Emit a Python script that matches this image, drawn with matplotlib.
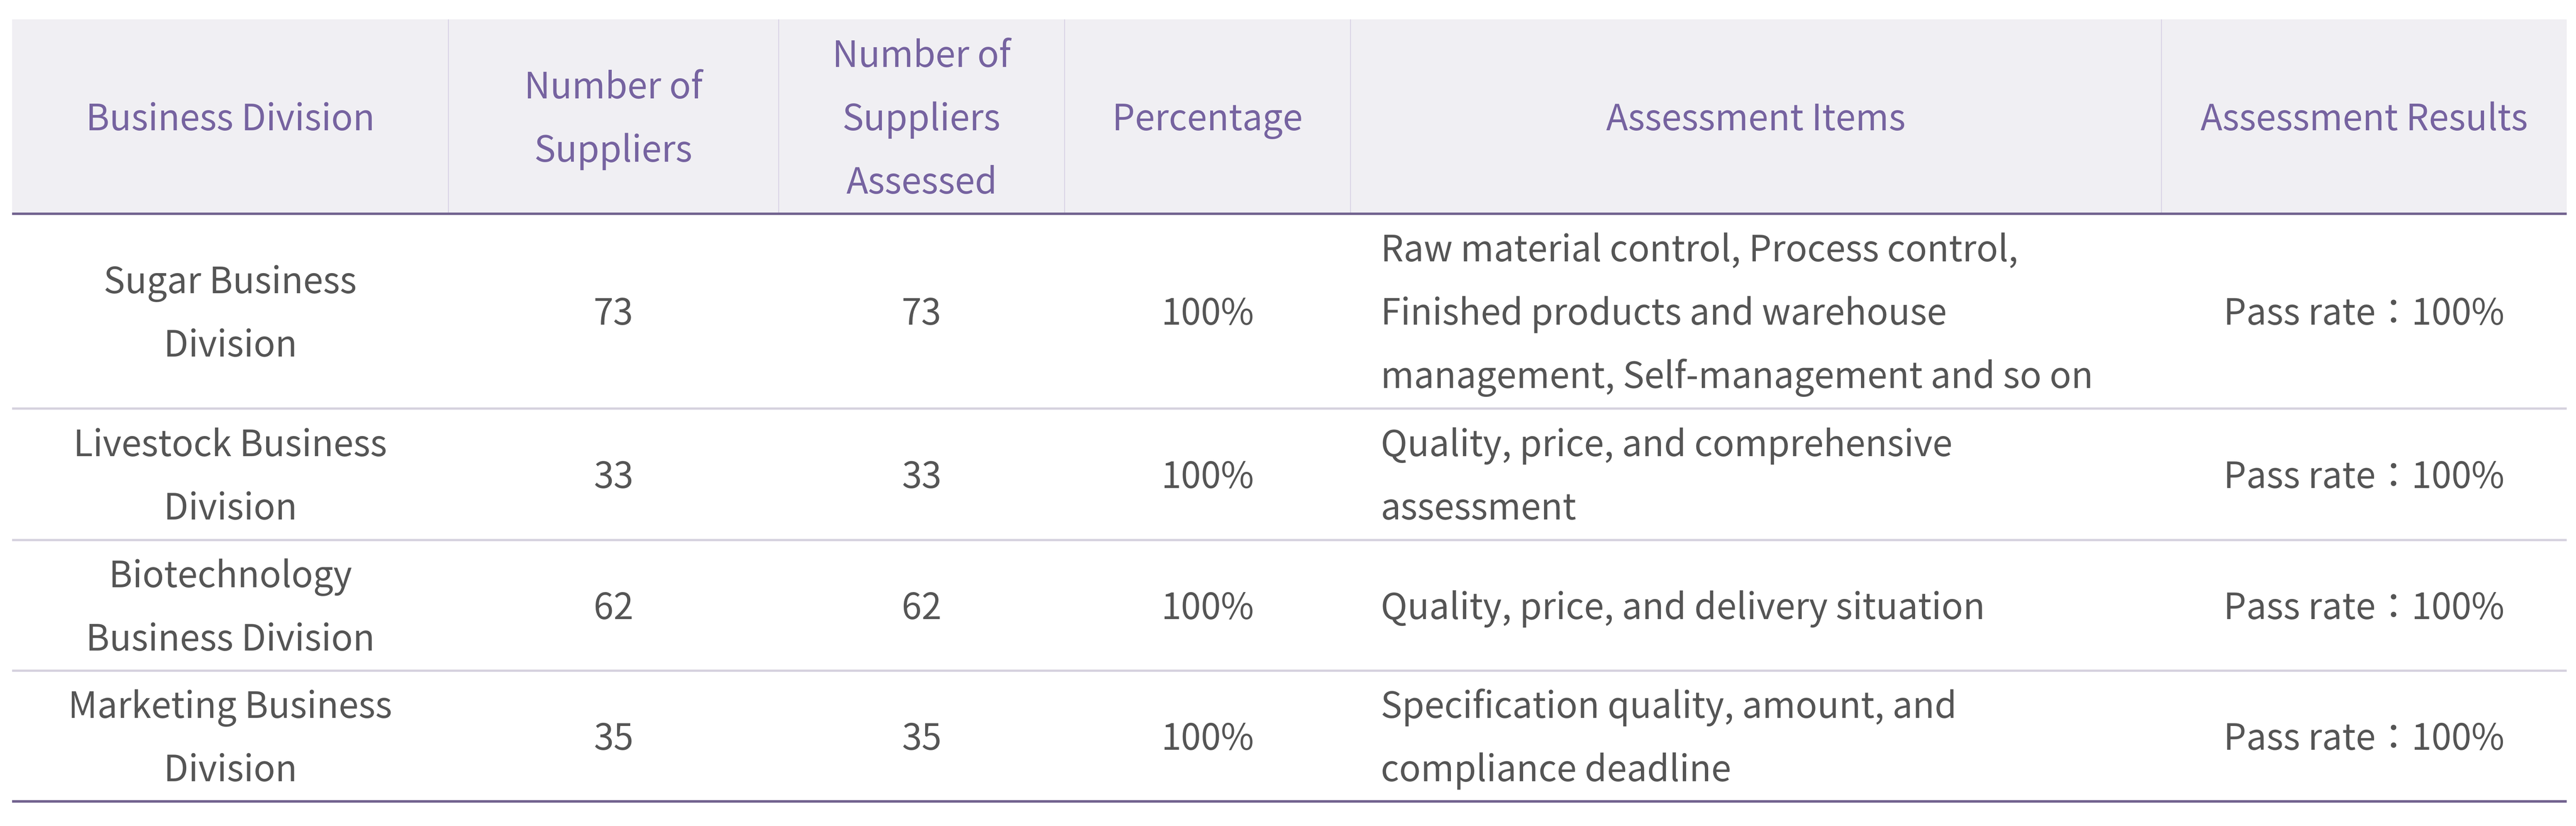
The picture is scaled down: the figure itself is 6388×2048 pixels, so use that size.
import matplotlib
matplotlib.use("Agg")
import matplotlib.pyplot as plt
from matplotlib.patches import Rectangle

plt.rcParams['font.family'] = ['Noto Sans CJK TC', 'DejaVu Sans']

# ---------------- data ----------------
headers = ["Business Division", "Number of\nSuppliers", "Number of\nSuppliers\nAssessed",
           "Percentage", "Assessment Items", "Assessment Results"]
divisions = ["Sugar Business\nDivision", "Livestock Business\nDivision",
             "Biotechnology\nBusiness Division", "Marketing Business\nDivision"]
num_suppliers = [73, 33, 62, 35]
num_assessed = [73, 33, 62, 35]
assessment_items = [
    "Raw material control, Process control,\nFinished products and warehouse\nmanagement, Self-management and so on",
    "Quality, price, and comprehensive\nassessment",
    "Quality, price, and delivery situation",
    "Specification quality, amount, and\ncompliance deadline",
]
pass_rates = [100, 100, 100, 100]

# ---------------- layout (pixels) ----------------
W, H, DPI = 6388, 2048, 100
col_edges = [30, 1112, 1931, 2640, 3349, 5360, 6365]
row_edges = [48, 530, 1013, 1339, 1663, 1987]
font_px = 89
line_gap = 157
fs = font_px * 72 / DPI

header_bg = "#F0EFF3"
header_fg = "#7663A0"
body_fg = "#555555"
thick_col = "#72638F"
thin_col = "#D5D1DE"
vdiv_col = "#D8D2E5"

fig = plt.figure(figsize=(W / DPI, H / DPI), dpi=DPI)
ax = fig.add_axes([0, 0, 1, 1])
ax.set_xlim(0, W)
ax.set_ylim(H, 0)
ax.axis("off")

# header background
ax.add_patch(Rectangle((col_edges[0], row_edges[0]), col_edges[-1] - col_edges[0],
                       row_edges[1] - row_edges[0], facecolor=header_bg, edgecolor="none", zorder=0))
# header vertical dividers
for x in col_edges[1:-1]:
    ax.plot([x, x], [row_edges[0], row_edges[1]], color=vdiv_col, lw=1.6, zorder=1,
            solid_capstyle="butt")

# horizontal lines
ax.plot([col_edges[0], col_edges[-1]], [row_edges[1], row_edges[1]], color=thick_col, lw=4.3,
        zorder=2, solid_capstyle="butt")
for y in row_edges[2:-1]:
    ax.plot([col_edges[0], col_edges[-1]], [y, y], color=thin_col, lw=4.0, zorder=2,
            solid_capstyle="butt")
ax.plot([col_edges[0], col_edges[-1]], [row_edges[-1], row_edges[-1]], color=thick_col, lw=4.6,
        zorder=2, solid_capstyle="butt")


def draw_cell(text, col, row, color, align="center", pad=75):
    lines = text.split("\n")
    n = len(lines)
    yc = (row_edges[row] + row_edges[row + 1]) / 2
    if align == "center":
        x = (col_edges[col] + col_edges[col + 1]) / 2
    else:
        x = col_edges[col] + pad
    for i, ln in enumerate(lines):
        yb = yc + (i - (n - 1) / 2) * line_gap + 0.38 * font_px
        ax.text(x, yb, ln, ha=align, va="baseline", fontsize=fs, color=color,
                fontweight="light", zorder=3)


for c, h in enumerate(headers):
    draw_cell(h, c, 0, header_fg)

for r in range(len(divisions)):
    row = r + 1
    pct = round(num_assessed[r] / num_suppliers[r] * 100)
    draw_cell(divisions[r], 0, row, body_fg)
    draw_cell(str(num_suppliers[r]), 1, row, body_fg)
    draw_cell(str(num_assessed[r]), 2, row, body_fg)
    draw_cell(f"{pct}%", 3, row, body_fg)
    draw_cell(assessment_items[r], 4, row, body_fg, align="left")
    draw_cell(f"Pass rate：{pass_rates[r]}%", 5, row, body_fg)

fig.savefig("out.png", dpi=DPI, facecolor="white")
